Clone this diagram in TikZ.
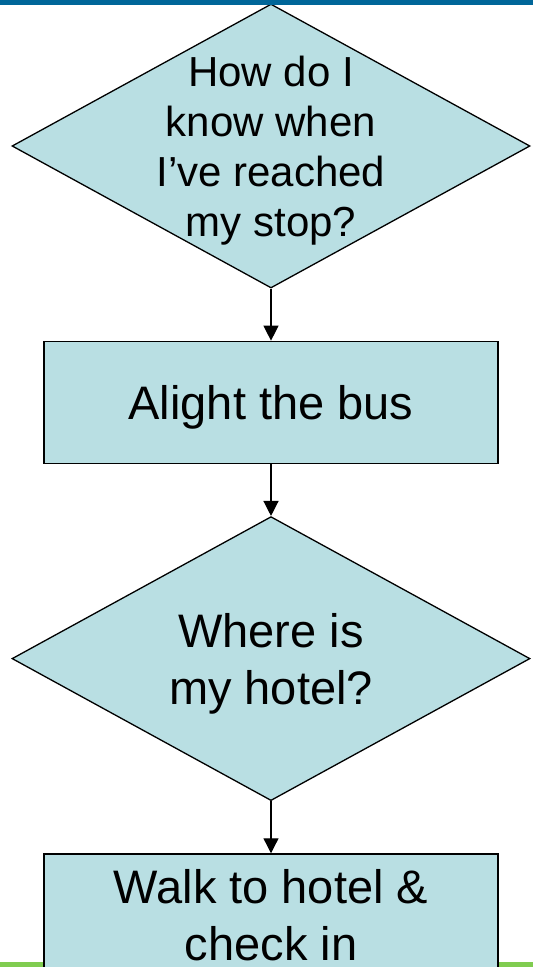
\documentclass[tikz,border=0pt]{standalone}
\usepackage{fontspec}
\setmainfont{Liberation Sans}
\usetikzlibrary{arrows.meta,shapes,positioning}
\definecolor{boxfill}{RGB}{185,223,227}
\definecolor{topband}{RGB}{0,102,153}
\definecolor{bottomband}{RGB}{128,204,80}

\begin{document}
\begin{tikzpicture}[x=1pt,y=1pt,node distance=52pt,
    decision/.style={diamond, draw, fill=boxfill, line width=1.3pt, minimum width=518pt, minimum height=284pt, inner sep=0pt},
    qtext/.style={align=center, text depth=0pt, font=\fontsize{47}{57}\selectfont},
    action/.style={rectangle, draw, fill=boxfill, line width=1.3pt, minimum width=454pt, minimum height=122pt, align=center, text depth=0pt, font=\fontsize{47}{57}\selectfont},
    flow/.style={-{Triangle[width=15pt,length=15pt]}, line width=1.3pt}]
\useasboundingbox (0,0) rectangle (533,-967);
\fill[bottomband] (0,-962) rectangle (533,-967);
\node[decision] (q1) at (271,-146) {};
\node[qtext, font=\fontsize{42}{50}\selectfont] (q1t) at (q1) {How do I\\know when\\I’ve reached\\my stop?};
\node[action, below=of q1] (a1) {Alight the bus};
\node[decision, below=of a1] (q2) {};
\node[qtext] (q2t) at (q2) {Where is\\my hotel?};
\node[action, below=of q2] (a2) {Walk to hotel \&\\check in};
\draw[flow] (q1) -- (a1);
\draw[flow] (a1) -- (q2);
\draw[flow] (q2) -- (a2);
\fill[topband] (0,0) rectangle (533,-5);
\end{tikzpicture}
\end{document}
